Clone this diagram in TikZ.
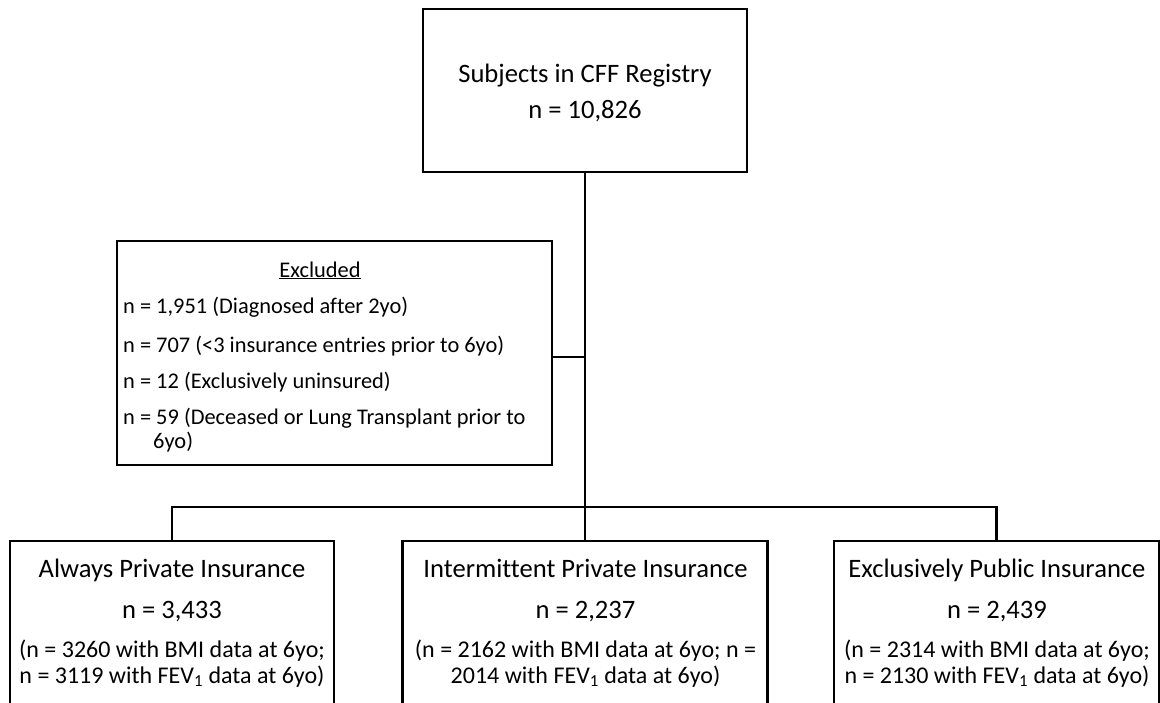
\documentclass[tikz,border=0pt]{standalone}
\usepackage{fontspec}
\setmainfont[Ligatures=NoCommon]{Carlito}
\begin{document}
\begin{tikzpicture}[x=1pt,y=-1pt,
  box/.style={draw=black,line width=2.6pt,inner sep=0pt,minimum width=#1,anchor=center},
  conn/.style={draw=black,line width=2.2pt,line cap=rect},
  big/.style={anchor=base,inner sep=0pt,font=\fontsize{26.6}{30}\selectfont},
  small/.style={anchor=base,inner sep=0pt,font=\fontsize{24}{28}\selectfont},
  exl/.style={anchor=base west,inner sep=0pt,font=\fontsize{22.4}{28}\selectfont}]
\useasboundingbox (0,0) rectangle (1160,702);
% boxes
\node[box=324pt,minimum height=163pt] (top) at (585,90.5) {};
\node[box=435pt,minimum height=224pt] (excl) at (334.5,353) {};
\node[box=324pt,minimum height=165pt] (left) at (172,623.5) {};
\node[box=365pt,minimum height=165pt] (mid) at (585,623.5) {};
\node[box=325pt,minimum height=165pt] (right) at (996.5,623.5) {};
% texts
\node[big] (t1) at (585,82) {Subjects in CFF Registry};
\node[big] (t2) at (585,118) {n = 10,826};
\node[exl,anchor=base] (e0) at (320,277) {\underline{Excluded}};
\node[exl] (e1) at (123,313) {n = 1,951 (Diagnosed after 2yo)};
\node[exl] (e2) at (123,352) {n = 707 (<3 insurance entries prior to 6yo)};
\node[exl] (e3) at (123,388) {n = 12 (Exclusively uninsured)};
\node[exl] (e4) at (123,424) {n = 59 (Deceased or Lung Transplant prior to};
\node[exl] (e5) at (153,448) {6yo)};
\node[big] (l1) at (172,577) {Always Private Insurance};
\node[big] (l2) at (172,618) {n = 3,433};
\node[small] (l3) at (172,657) {(n = 3260 with BMI data at 6yo;};
\node[small] (l4) at (172,683) {n = 3119 with FEV\textsubscript{1} data at 6yo)};
\node[big] (m1) at (585.5,577) {Intermittent Private Insurance};
\node[big] (m2) at (585.5,618) {n = 2,237};
\node[small] (m3) at (585.5,657) {(n = 2162 with BMI data at 6yo; n =};
\node[small] (m4) at (585.5,683) {2014 with FEV\textsubscript{1} data at 6yo)};
\node[big] (r1) at (997,577) {Exclusively Public Insurance};
\node[big] (r2) at (997,618) {n = 2,439};
\node[small] (r3) at (997,657) {(n = 2314 with BMI data at 6yo;};
\node[small] (r4) at (997,683) {n = 2130 with FEV\textsubscript{1} data at 6yo)};
% connectors
\coordinate (j1) at (585,357);
\coordinate (j2) at (585,507);
\draw[conn] (top.south) -- (j1) -- (j2) -- (mid.north);
\draw[conn] (excl.east |- j1) -- (j1);
\draw[conn] (left.north) |- (j2) -| (right.north);
\end{tikzpicture}
\end{document}
